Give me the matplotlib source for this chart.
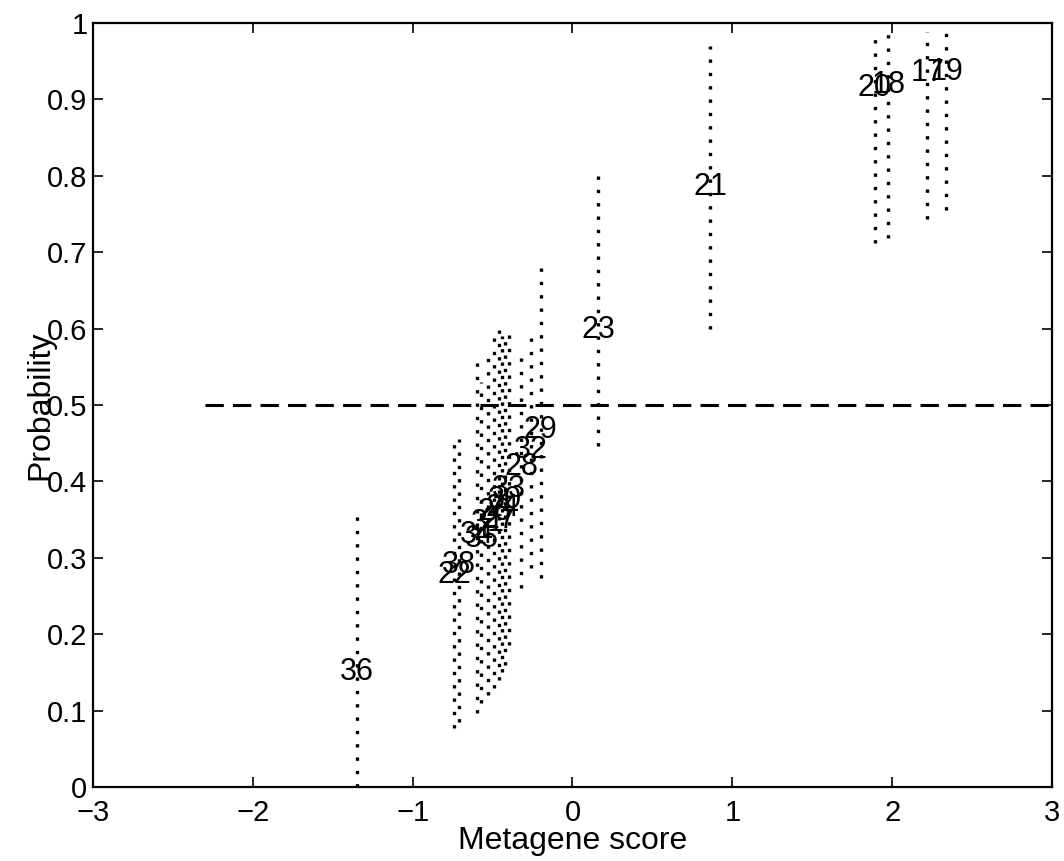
import matplotlib.pyplot as plt
import numpy as np

plt.rcParams['font.family'] = ['Liberation Sans', 'DejaVu Sans']

# sample labels, metagene scores, predicted probability and interval limits
labels = ["17", "18", "19", "20", "21", "23", "36", "22", "38",
          "28", "32", "29",
          "34", "35", "31", "26", "27", "24", "30", "33"]
scores = [2.22, 1.975, 2.34, 1.89, 0.86, 0.16, -1.35, -0.74, -0.71,
          -0.32, -0.26, -0.20,
          -0.60, -0.57, -0.53, -0.49, -0.46, -0.44, -0.42, -0.40]
prob = [0.934, 0.919, 0.936, 0.915, 0.785, 0.598, 0.15, 0.277, 0.29,
        0.419, 0.441, 0.467,
        0.33, 0.325, 0.345, 0.36, 0.35, 0.365, 0.375, 0.39]
prob_lo = [0.743, 0.718, 0.755, 0.712, 0.60, 0.446, 0.0, 0.077, 0.085,
           0.26, 0.287, 0.274,
           0.097, 0.11, 0.12, 0.13, 0.14, 0.15, 0.16, 0.186]
prob_hi = [0.988, 0.99, 0.988, 0.984, 0.97, 0.805, 0.36, 0.46, 0.455,
           0.57, 0.595, 0.685,
           0.556, 0.53, 0.57, 0.60, 0.605, 0.59, 0.59, 0.595]

threshold = 0.5
threshold_start = -2.3

fig = plt.figure(figsize=(10.64, 8.61), dpi=100)
ax = fig.add_axes([0.0874, 0.086, 0.9013, 0.8873])

# intervals
for x, lo, hi in zip(scores, prob_lo, prob_hi):
    ax.plot([x, x], [lo, hi], color="black", linestyle=(0, (1, 3)), linewidth=2.4)

# threshold line
ax.plot([threshold_start, 3], [threshold, threshold], color="black",
        linestyle=(0, (6, 3)), linewidth=2.2)

# sample numbers at point estimates
for x, y, lab in zip(scores, prob, labels):
    ax.text(x, y, lab, ha="center", va="center", fontsize=22, color="black")

ax.set_xlim(-3, 3)
ax.set_ylim(0, 1)
ax.set_xticks(np.arange(-3, 4, 1))
ax.set_yticks(np.round(np.arange(0, 1.01, 0.1), 1))
ax.set_yticklabels(["0", "0.1", "0.2", "0.3", "0.4", "0.5", "0.6", "0.7", "0.8", "0.9", "1"])
ax.tick_params(direction="in", length=7, width=1.2, top=True, right=True,
               labelsize=21)
ax.tick_params(axis="x", pad=9)
ax.tick_params(axis="y", pad=4)
for s in ax.spines.values():
    s.set_linewidth(1.6)

ax.set_xlabel("Metagene score", fontsize=23, labelpad=-1)
ax.set_ylabel("Probability", fontsize=23, labelpad=-6)

fig.savefig("out.png", dpi=100)
